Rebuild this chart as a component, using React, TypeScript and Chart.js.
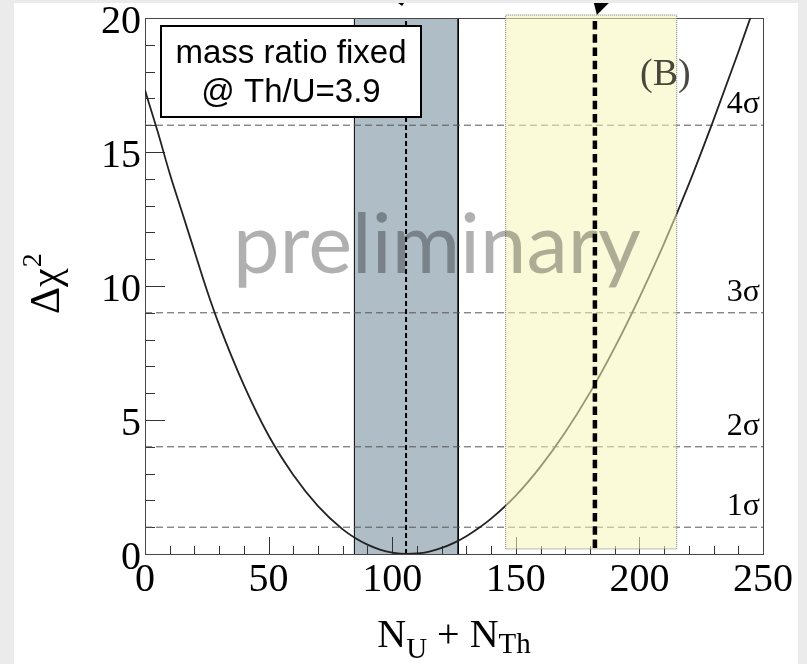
import React, { useEffect, useRef } from "react";
import { Chart, registerables } from "chart.js";
Chart.register(...registerables);

// ---- data ----
const xTicks = [0, 50, 100, 150, 200, 250];
const yTicks = [0, 5, 10, 15, 20];
const curveX = [0, 5, 10, 15, 20, 25, 30, 40, 50, 60, 70, 80, 85, 90, 95, 100, 106, 110, 115, 120, 125, 130, 135, 140, 150, 160, 170, 180, 190, 200, 210, 220, 230, 240, 246];
const curveY = [17.3, 15.8, 14.2, 12.75, 11.3, 9.85, 8.55, 6.3, 4.42, 2.95, 1.79, 0.92, 0.6, 0.35, 0.165, 0.05, 0, 0.018, 0.093, 0.225, 0.415, 0.662, 0.967, 1.318, 2.18, 3.26, 4.54, 6.02, 7.7, 9.57, 11.59, 13.8, 16.2, 18.72, 20.3];
const sigmaLevels = [1, 4, 9, 16];
const sigmaLabels = ["1σ", "2σ", "3σ", "4σ"];
const grayBandX = [84.7, 126.7];
const grayBandY = [0, 20];
const yellowBandX = [145.9, 215.1];
const yellowBandY = [0.19, 20.11];
const thinLineX = 105.6;
const thinLineY = [0, 20];
const thickLineX = 182;
const thickLineY = [0.22, 20.07];
const boxLines = ["mass ratio fixed", "@ Th/U=3.9"];
const panelTag = "(B)";
const watermark = "preliminary";

const SERIF = "'Liberation Serif', 'Times New Roman', serif";
const SANS = "'Liberation Sans', Arial, sans-serif";

function drawTicksAndFrame(chart: any) {
  const { ctx, chartArea: a, scales } = chart;
  const x = scales.x, y = scales.y;
  ctx.save();
  ctx.strokeStyle = "#333";
  ctx.lineWidth = 1;
  ctx.beginPath();
  for (let v = 0; v <= 250; v += 10) {
    const px = Math.round(x.getPixelForValue(v)) + 0.5;
    const len = v % 50 === 0 ? 17 : 8;
    ctx.moveTo(px, a.bottom);
    ctx.lineTo(px, a.bottom - len);
  }
  for (let v = 0; v <= 20; v += 1) {
    const py = Math.round(y.getPixelForValue(v)) + 0.5;
    const len = v % 5 === 0 ? 20 : 10;
    ctx.moveTo(a.left, py);
    ctx.lineTo(a.left + len, py);
  }
  ctx.stroke();
  ctx.strokeStyle = "#464646";
  ctx.strokeRect(a.left + 0.5, a.top + 0.5, a.right - a.left, a.bottom - a.top);
  ctx.restore();
}

const decor = {
  id: "decor",
  afterDatasetDraw(chart: any, args: any) {
    const lbl = chart.data.datasets[args.index].label;
    if (lbl === "grayBand") drawTicksAndFrame(chart);
    if (lbl === "yellowBand") {
      // part of the yellow box that sticks out above the frame
      const { ctx, chartArea: a, scales } = chart;
      const x0 = scales.x.getPixelForValue(yellowBandX[0]);
      const x1 = scales.x.getPixelForValue(yellowBandX[1]);
      const yt = scales.y.getPixelForValue(yellowBandY[1]);
      ctx.save();
      ctx.fillStyle = "rgba(245,245,185,0.55)";
      ctx.fillRect(x0, yt, x1 - x0, a.top - yt);
      ctx.restore();
    }
  },
  afterDatasetsDraw(chart: any) {
    const { ctx, chartArea: a, scales } = chart;
    const x = scales.x, y = scales.y;
    ctx.save();
    // sigma labels
    ctx.fillStyle = "#000";
    ctx.font = `32px ${SERIF}`;
    ctx.textAlign = "right";
    ctx.textBaseline = "alphabetic";
    sigmaLevels.forEach((lv, i) => {
      ctx.fillText(sigmaLabels[i], a.right - 3, y.getPixelForValue(lv) - 12);
    });
    // (B)
    ctx.fillStyle = "rgba(40,40,30,0.85)";
    ctx.font = `38px ${SERIF}`;
    ctx.textAlign = "left";
    ctx.fillText(panelTag, 626, 82);
    // info box
    ctx.fillStyle = "#fff";
    ctx.fillRect(146, 22, 262, 93);
    ctx.strokeStyle = "#000";
    ctx.lineWidth = 2;
    ctx.strokeRect(147, 23, 260, 91);
    ctx.fillStyle = "#000";
    ctx.font = `33px ${SANS}`;
    ctx.textAlign = "center";
    ctx.fillText(boxLines[0], 277, 60);
    ctx.fillText(boxLines[1], 277, 99);
    // arrow heads at top
    const tx = x.getPixelForValue(thickLineX);
    ctx.fillStyle = "#000";
    ctx.beginPath();
    ctx.moveTo(tx - 1, 0);
    ctx.lineTo(tx + 14, 0);
    ctx.lineTo(tx + 2, 12);
    ctx.closePath();
    ctx.fill();
    const sx = x.getPixelForValue(thinLineX);
    ctx.beginPath();
    ctx.moveTo(sx - 8, 0);
    ctx.lineTo(sx - 2, 0);
    ctx.lineTo(sx - 4, 3);
    ctx.closePath();
    ctx.fill();
    // watermark
    ctx.fillStyle = "rgba(0,0,0,0.31)";
    ctx.font = `80px Lato, 'Open Sans', sans-serif`;
    const w = ctx.measureText(watermark).width;
    const size = (80 * 408) / w;
    ctx.font = `${size}px Lato, 'Open Sans', sans-serif`;
    ctx.textAlign = "left";
    ctx.fillText(watermark, 219, 270);
    ctx.restore();
  },
  afterDraw(chart: any) {
    const { ctx, chartArea: a } = chart;
    ctx.save();
    ctx.fillStyle = "#000";
    // y title
    ctx.translate(45, (a.top + a.bottom) / 2 + 28);
    ctx.rotate(-Math.PI / 2);
    ctx.font = `42px ${SERIF}`;
    ctx.textAlign = "left";
    ctx.textBaseline = "alphabetic";
    ctx.fillText("Δχ", 0, 0);
    const dw = ctx.measureText("Δχ").width;
    ctx.font = `28px ${SERIF}`;
    ctx.fillText("2", dw + 1, -18);
    ctx.restore();
    // x title
    ctx.save();
    ctx.fillStyle = "#000";
    ctx.textBaseline = "alphabetic";
    ctx.textAlign = "left";
    const parts = [
      { t: "N", s: 40, dy: 0 },
      { t: "U", s: 29, dy: 11 },
      { t: " + ", s: 40, dy: 0 },
      { t: "N", s: 40, dy: 0 },
      { t: "Th", s: 29, dy: 6 },
    ];
    let total = 0;
    parts.forEach((p) => {
      ctx.font = `${p.s}px ${SERIF}`;
      total += ctx.measureText(p.t).width;
    });
    let cx = (a.left + a.right) / 2 - total / 2;
    const base = 644;
    parts.forEach((p) => {
      ctx.font = `${p.s}px ${SERIF}`;
      ctx.fillText(p.t, cx, base + p.dy);
      cx += ctx.measureText(p.t).width;
    });
    ctx.restore();
  },
};

export default function App() {
  const ref = useRef<HTMLCanvasElement>(null);
  useEffect(() => {
    const curve = curveX.map((xv, i) => ({ x: xv, y: curveY[i] }));
    const sigmaSets = sigmaLevels.map((lv) => ({
      label: "sigma" + lv,
      data: [
        { x: 0, y: lv },
        { x: 250, y: lv },
      ],
      borderColor: "#555",
      borderWidth: 1,
      borderDash: [7, 4],
      pointRadius: 0,
      fill: false,
      order: 5,
    }));
    const chart = new Chart(ref.current as HTMLCanvasElement, {
      type: "line",
      data: {
        datasets: [
          {
            label: "thickLine",
            data: [
              { x: thickLineX, y: thickLineY[0] },
              { x: thickLineX, y: thickLineY[1] },
            ],
            borderColor: "#000",
            borderWidth: 4.5,
            borderDash: [8.5, 4.8],
            pointRadius: 0,
            fill: false,
            clip: false,
            order: 0,
          },
          {
            label: "yellowBorder",
            data: [
              { x: yellowBandX[0], y: yellowBandY[0] },
              { x: yellowBandX[0], y: yellowBandY[1] },
              { x: yellowBandX[1], y: yellowBandY[1] },
              { x: yellowBandX[1], y: yellowBandY[0] },
              { x: yellowBandX[0], y: yellowBandY[0] },
            ],
            borderColor: "#777",
            borderWidth: 1,
            borderDash: [1, 1],
            pointRadius: 0,
            fill: false,
            clip: false,
            order: 1,
          },
          {
            label: "yellowBand",
            data: [
              { x: yellowBandX[0], y: yellowBandY[1] },
              { x: yellowBandX[1], y: yellowBandY[1] },
            ],
            borderWidth: 0,
            borderColor: "rgba(0,0,0,0)",
            backgroundColor: "rgba(245,245,185,0.55)",
            pointRadius: 0,
            fill: { value: yellowBandY[0] },
            order: 2,
          },
          {
            label: "curve",
            data: curve,
            borderColor: "#222",
            borderWidth: 1.8,
            pointRadius: 0,
            cubicInterpolationMode: "monotone",
            fill: false,
            order: 3,
          },
          {
            label: "thinLine",
            data: [
              { x: thinLineX, y: thinLineY[0] },
              { x: thinLineX, y: thinLineY[1] },
            ],
            borderColor: "#000",
            borderWidth: 2,
            borderDash: [5, 3],
            pointRadius: 0,
            fill: false,
            order: 4,
          },
          ...sigmaSets,
          {
            label: "grayBand",
            data: [
              { x: grayBandX[0], y: grayBandY[0] },
              { x: grayBandX[0], y: grayBandY[1] },
              { x: grayBandX[1], y: grayBandY[1] },
              { x: grayBandX[1], y: grayBandY[0] },
            ],
            borderColor: "#000",
            borderWidth: 1,
            backgroundColor: "#afbdc6",
            pointRadius: 0,
            fill: "origin",
            order: 6,
          },
        ] as any,
      },
      options: {
        responsive: false,
        animation: false,
        events: [],
        layout: { padding: { top: 15, right: 35, left: 0, bottom: 0 } },
        plugins: {
          legend: { display: false },
          tooltip: { enabled: false },
        },
        scales: {
          x: {
            type: "linear",
            min: 0,
            max: 250,
            afterBuildTicks: (s: any) => {
              s.ticks = xTicks.map((v) => ({ value: v }));
            },
            afterFit: (s: any) => {
              s.height = 110;
              s.paddingLeft = 0;
              s.paddingRight = 0;
            },
            grid: { display: false, drawTicks: false },
            border: { display: false },
            ticks: {
              font: { family: SERIF, size: 40 },
              color: "#000",
              padding: 2,
              maxRotation: 0,
              autoSkip: false,
              callback: (v: any) => String(v),
            },
          },
          y: {
            type: "linear",
            min: 0,
            max: 20,
            afterBuildTicks: (s: any) => {
              s.ticks = yTicks.map((v) => ({ value: v }));
            },
            afterFit: (s: any) => {
              s.width = 131;
              s.paddingTop = 0;
              s.paddingBottom = 0;
            },
            grid: { display: false, drawTicks: false },
            border: { display: false },
            ticks: {
              font: { family: SERIF, size: 40 },
              color: "#000",
              padding: 4,
              labelOffset: 4,
              autoSkip: false,
              callback: (v: any) => String(v),
            },
          },
        },
      } as any,
      plugins: [decor],
    });
    return () => chart.destroy();
  }, []);
  return (
    <div style={{ position: "fixed", left: 0, top: 0, width: 807, height: 664, background: "#ebebeb", overflow: "hidden" }}>
      <canvas
        ref={ref}
        width={784}
        height={661}
        style={{ position: "absolute", left: 14, top: 3, width: 784, height: 661, background: "#fff" }}
      />
    </div>
  );
}
